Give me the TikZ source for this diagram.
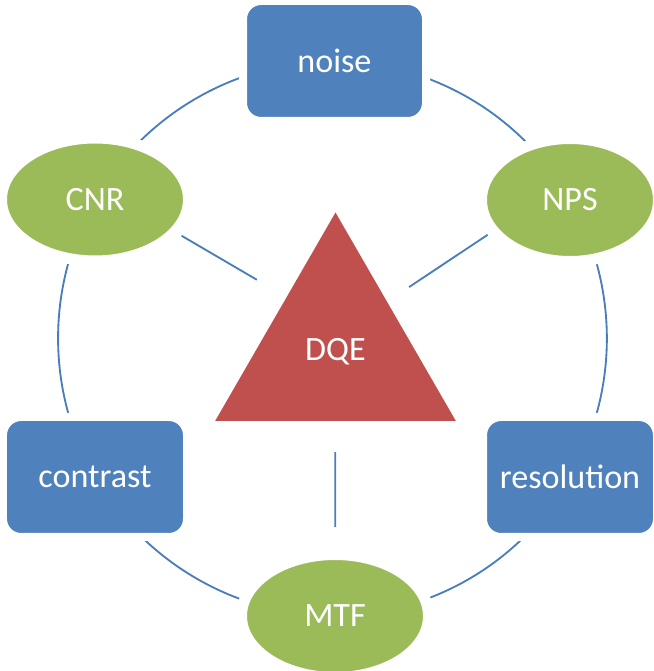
\documentclass[tikz,border=0pt]{standalone}
\usepackage{fontspec}
\setmainfont{Carlito}
\usetikzlibrary{shapes.geometric,backgrounds}
\definecolor{officeblue}{HTML}{4F81BD}
\definecolor{officegreen}{HTML}{9BBB59}
\definecolor{officered}{HTML}{C0504D}
\definecolor{linkblue}{HTML}{4A7EBB}

\begin{document}
\begin{tikzpicture}[every node/.style={font=\fontsize{19.4}{23}\selectfont, text=white, outer sep=0pt},
  metric box/.style={rectangle, rounded corners=0.36cm, fill=officeblue, draw=white, line width=0.16cm, minimum height=2.4cm},
  metric oval/.style={ellipse, fill=officegreen, draw=white, line width=0.22cm, minimum height=2.46cm},
  ring/.style={linkblue, line width=1.05pt, bend left=30, looseness=0.91},
  spoke/.style={linkblue, line width=1.05pt}]

\useasboundingbox (0,0) rectangle (13.08,13.42);

% the six measures round the ring
\node[metric box, minimum width=3.66cm] (noise) at (6.69,12.2) {noise};
\node[metric oval, minimum width=3.54cm] (NPS) at (11.4,9.42) {NPS};
\node[metric box, minimum width=3.48cm] (resolution) at (11.4,3.88) {resolution};
\node[metric oval, minimum width=3.74cm] (MTF) at (6.7,1.1) {MTF};
\node[metric box, minimum width=3.68cm] (contrast) at (1.9,3.88) {contrast};
\node[metric oval, minimum width=3.74cm] (CNR) at (1.9,9.43) {CNR};

% DQE in the middle
\node[regular polygon, regular polygon sides=3, fill=officered, inner sep=0pt, minimum size=5.56cm] (DQE) at (6.71,6.39) {DQE};

% the ring, behind the nodes
\begin{scope}[on background layer]
\draw[ring] (noise.center) to (NPS.center);
\draw[ring] (NPS.center) to (resolution.center);
\draw[ring] (resolution.center) to (MTF.center);
\draw[ring] (MTF.center) to (contrast.center);
\draw[ring] (contrast.center) to (CNR.center);
\draw[ring] (CNR.center) to (noise.center);
\end{scope}

% spokes to DQE
\draw[spoke, shorten <=0.16cm, shorten >=0.69cm] (CNR.-22) -- (DQE.132);
\draw[spoke, shorten <=0.14cm, shorten >=0.53cm] (NPS.202) -- (DQE.44);
\draw[spoke, shorten <=0.62cm, shorten >=0.55cm] (DQE) -- (MTF);

\end{tikzpicture}
\end{document}
